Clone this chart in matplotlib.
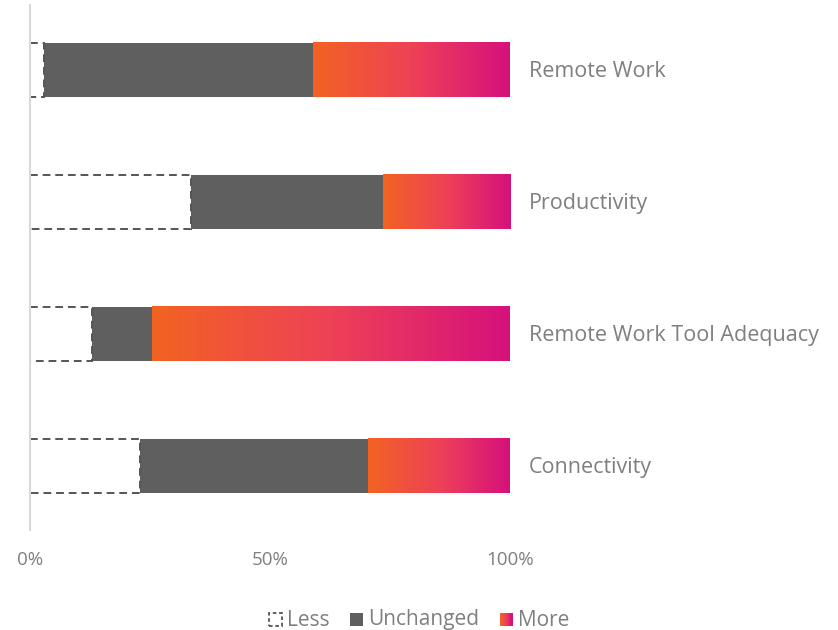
import matplotlib
matplotlib.use("Agg")
import matplotlib.pyplot as plt
import numpy as np
from matplotlib.patches import Rectangle
from matplotlib.colors import LinearSegmentedColormap
from matplotlib.legend_handler import HandlerBase

categories = ["Remote Work", "Productivity", "Remote Work Tool Adequacy", "Connectivity"]
less = [3, 33.5, 13, 23]
unchanged = [56, 40, 12.5, 47.5]
more = [41, 26.5, 74.5, 29.5]
tick_values = [0, 50, 100]
tick_labels = ["0%", "50%", "100%"]
legend_labels = ["Less", "Unchanged", "More"]

FONT = ["Open Sans", "DejaVu Sans"]
TEXT_GREY = "#7f7f7f"
DARK = "#5f5f5f"
grad = LinearSegmentedColormap.from_list("more", ["#f26322", "#ee4157", "#d5117c"])

fig = plt.figure(figsize=(8.38, 6.3), dpi=100)
ax = fig.add_axes([30 / 838, 1 - 530 / 630, 480 / 838, 525 / 630])

h = 0.41
for i, cat in enumerate(categories):
    # Less: dashed outline only
    ax.add_patch(Rectangle((0, i - h / 2), less[i], h, fill=False,
                           edgecolor="#555555", linestyle=(0, (4, 2.5)),
                           linewidth=1.4, clip_on=False, zorder=3))
    # Unchanged: solid grey
    ax.barh(i, unchanged[i], left=less[i], height=h, color=DARK, zorder=2)
    # More: horizontal gradient
    x0 = less[i] + unchanged[i]
    x1 = x0 + more[i]
    g = np.linspace(0, 1, 256).reshape(1, -1)
    ax.imshow(g, cmap=grad, aspect="auto",
              extent=(x0, x1, i + h / 2, i - h / 2), zorder=2, interpolation="bilinear")
    ax.text(x1 + 4, i + 0.01, cat, va="center", ha="left", fontsize=15.5,
            color=TEXT_GREY, family=FONT, clip_on=False)

ax.set_ylim(3.485, -0.492)
ax.set_xlim(0, 100)

for s in ["top", "right", "bottom"]:
    ax.spines[s].set_visible(False)
ax.spines["left"].set_color("#d9d9d9")
ax.spines["left"].set_linewidth(1.5)
ax.spines["left"].set_zorder(5)
ax.set_yticks([])
ax.set_xticks(tick_values)
ax.set_xticklabels(tick_labels, fontsize=13.5, color=TEXT_GREY, family=FONT)
ax.tick_params(axis="x", length=0, pad=15)


class DashedBoxHandler(HandlerBase):
    def create_artists(self, legend, orig_handle, xd, yd, w, h_, fontsize, trans):
        s = min(w, h_)
        r = Rectangle((xd + w - s, yd), s, s, fill=False, edgecolor="#555555",
                      linestyle=(0, (2, 1.5)), linewidth=1.3, transform=trans)
        return [r]


class GradientBoxHandler(HandlerBase):
    def create_artists(self, legend, orig_handle, xd, yd, w, h_, fontsize, trans):
        s = min(w, h_)
        n = 12
        arts = []
        for k in range(n):
            arts.append(Rectangle((xd + w - s + k * s / n, yd), s / n + 0.2, s,
                                  facecolor=grad(k / (n - 1)), edgecolor="none",
                                  transform=trans))
        return arts


class SolidBoxHandler(HandlerBase):
    def create_artists(self, legend, orig_handle, xd, yd, w, h_, fontsize, trans):
        s = min(w, h_)
        return [Rectangle((xd + w - s, yd), s, s, facecolor=DARK,
                          edgecolor="none", transform=trans)]


class LessKey: pass
class UnchKey: pass
class MoreKey: pass

handles = [LessKey(), UnchKey(), MoreKey()]
leg = fig.legend(handles, legend_labels, loc="center", bbox_to_anchor=(0.5, 1 - 620 / 630),
                 ncol=3, frameon=False, handlelength=0.6, handletextpad=0.25,
                 columnspacing=1.0,
                 handler_map={LessKey: DashedBoxHandler(), UnchKey: SolidBoxHandler(),
                              MoreKey: GradientBoxHandler()},
                 prop={"family": FONT, "size": 15})
for t in leg.get_texts():
    t.set_color(TEXT_GREY)

fig.savefig("out.png", dpi=100)
